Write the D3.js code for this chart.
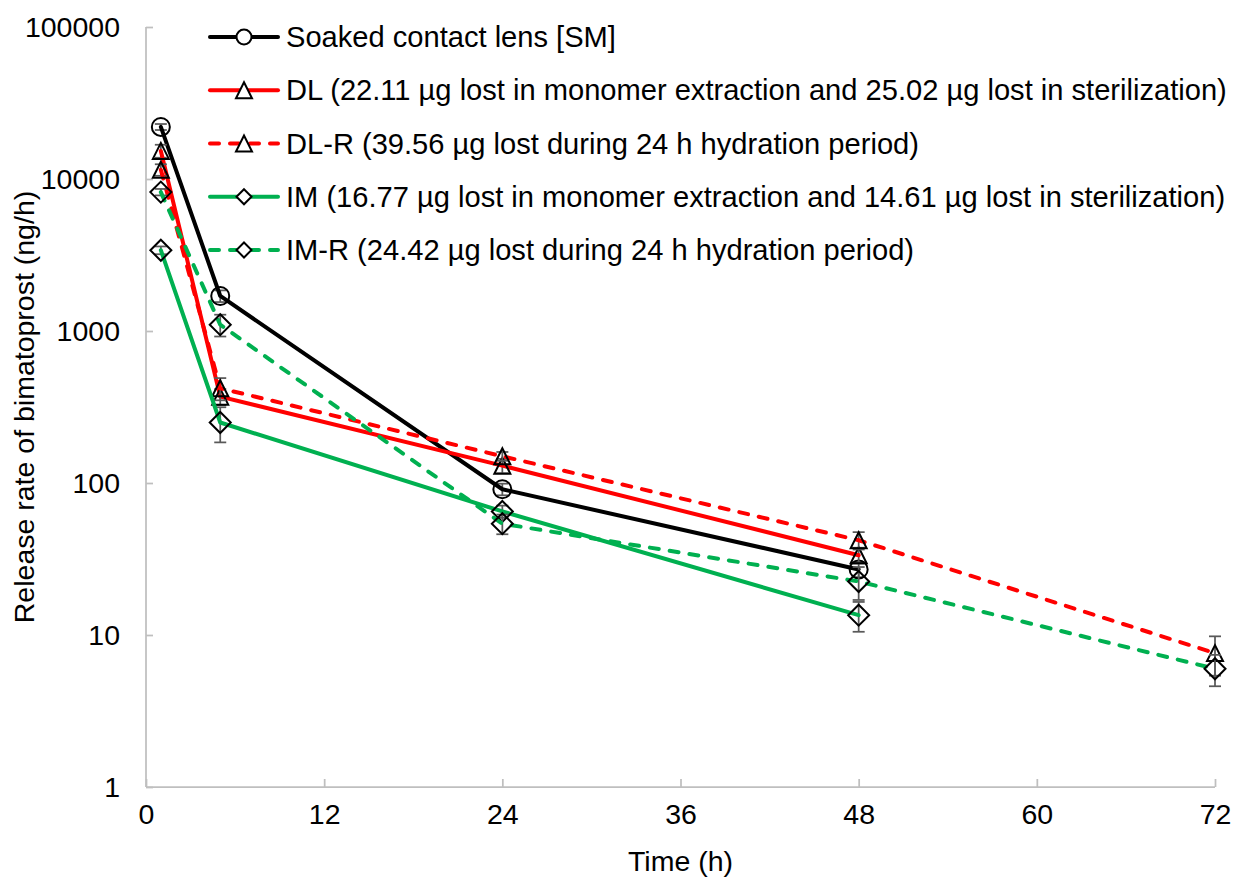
<!DOCTYPE html>
<html>
<head>
<meta charset="utf-8">
<script src="https://cdn.jsdelivr.net/npm/d3@7"></script>
<style>
  html, body { margin: 0; padding: 0; background: #fff; }
  svg { display: block; font-family: "Liberation Sans", Arial, sans-serif; }
</style>
</head>
<body>
<svg id="chart" width="1241" height="878"></svg>
<script>
// Sampling times (h)
const times = [1, 5, 24, 48, 72];

// Release rates (ng/h) per formulation, and their standard deviations
const smRate   = [22000, 1700, 91, 27];
const smSd     = [1000, 150, 8, 3];
const dlRate   = [15300, 370, 130, 33.5];
const dlSd     = [1500, 45, 14, 4];
const dlrRate  = [11500, 420, 150, 42, 7.6];
const dlrSd    = [1000, 70, 10, 5.5, 2.2];
const imRate   = [3400, 250, 65, 13.5];
const imSd     = [200, 65, 6, 3];
const imrRate  = [8200, 1100, 54, 22.5, 6.0];
const imrSd    = [400, 180, 8, 5.5, 1.4];

const seriesNames = [
  "Soaked contact lens [SM]",
  "DL (22.11 µg lost in monomer extraction and 25.02 µg lost in sterilization)",
  "DL-R (39.56 µg lost during 24 h hydration period)",
  "IM (16.77 µg lost in monomer extraction and 14.61 µg lost in sterilization)",
  "IM-R (24.42 µg lost during 24 h hydration period)"
];

const xTicks = [0, 12, 24, 36, 48, 60, 72];
const yTicks = [1, 10, 100, 1000, 10000, 100000];
const xTitle = "Time (h)";
const yTitle = "Release rate of bimatoprost (ng/h)";

// Series styling
const series = [
  { name: seriesNames[0], rate: smRate,  sd: smSd,  color: "#000000", dashed: false, marker: "circle" },
  { name: seriesNames[1], rate: dlRate,  sd: dlSd,  color: "#ff0000", dashed: false, marker: "triangle" },
  { name: seriesNames[2], rate: dlrRate, sd: dlrSd, color: "#ff0000", dashed: true,  marker: "triangle" },
  { name: seriesNames[3], rate: imRate,  sd: imSd,  color: "#00b050", dashed: false, marker: "diamond" },
  { name: seriesNames[4], rate: imrRate, sd: imrSd, color: "#00b050", dashed: true,  marker: "diamond" }
];

const W = 1241, H = 878;
const margin = { left: 146, right: 26, top: 27, bottom: 91 };
const FONT = 28.5;
const LEGEND_FONT = 29.1;

const svg = d3.select("#chart");

const x = d3.scaleLinear().domain([0, 72]).range([margin.left, W - margin.right]);
const y = d3.scaleLog().domain([1, 100000]).range([H - margin.bottom, margin.top]);

const axisColor = "#bfbfbf";

// Axes with inward ticks
const xAxis = d3.axisBottom(x).tickValues(xTicks).tickSize(-8).tickPadding(17).tickFormat(d3.format("d"));
const yAxis = d3.axisLeft(y).tickValues(yTicks).tickSize(-7).tickPadding(26).tickFormat(d3.format("d"));

const gx = svg.append("g").attr("transform", `translate(0,${H - margin.bottom})`).call(xAxis);
const gy = svg.append("g").attr("transform", `translate(${margin.left},0)`).call(yAxis);

[gx, gy].forEach(g => {
  g.select(".domain").attr("stroke", axisColor).attr("stroke-width", 1.75);
  g.selectAll(".tick line").attr("stroke", axisColor).attr("stroke-width", 1.75);
  g.selectAll(".tick text").attr("fill", "#000").style("font-size", FONT + "px")
    .style("font-family", "'Liberation Sans', Arial, sans-serif");
});
gx.selectAll(".tick text").attr("dy", "0.71em");
gy.selectAll(".tick text").attr("dy", "0.35em");
// plain axis lines without outer tick stubs
gy.select(".domain").attr("d", `M0,${y(100000)}V${y(1)}`);
gx.select(".domain").attr("d", `M${x(0)},0H${x(72)}`);

// Axis titles
svg.append("text")
  .attr("x", (x(0) + x(72)) / 2).attr("y", 871)
  .attr("text-anchor", "middle").style("font-size", FONT + "px").text(xTitle);
svg.append("text")
  .attr("transform", `translate(34,${(y(1) + y(100000)) / 2}) rotate(-90)`)
  .attr("text-anchor", "middle").style("font-size", FONT + "px").text(yTitle);

// Marker shapes
function markerPath(type, size) {
  if (type === "triangle") {
    const w = size, h = size;
    return `M0,${-h / 2}L${w / 2},${h / 2}L${-w / 2},${h / 2}Z`;
  }
  if (type === "diamond") {
    const s = size / 2;
    return `M0,${-s}L${s},0L0,${s}L${-s},0Z`;
  }
  return null;
}
function drawMarker(g, type, cx, cy, legend) {
  if (type === "circle") {
    g.append("circle").attr("cx", cx).attr("cy", cy).attr("r", legend ? 7.5 : 9)
      .attr("fill", legend ? "#fff" : "none").attr("stroke", "#000").attr("stroke-width", 2);
  } else {
    const size = type === "triangle" ? 16 : (legend ? 15 : 21);
    g.append("path").attr("d", markerPath(type, size))
      .attr("transform", `translate(${cx},${cy})`)
      .attr("fill", legend ? "#fff" : "none").attr("stroke", "#000").attr("stroke-width", 2)
      .attr("stroke-linejoin", "miter");
  }
}

const line = d3.line().x(d => x(d.t)).y(d => y(d.v));
const errColor = "#595959";

series.forEach(s => {
  const pts = s.rate.map((v, i) => ({ t: times[i], v, sd: s.sd[i] }));
  const g = svg.append("g");

  // error bars
  pts.forEach(p => {
    const top = y(p.v + p.sd), bot = y(Math.max(p.v - p.sd, 1));
    const eg = g.append("g").attr("stroke", errColor).attr("stroke-width", 1.75);
    eg.append("line").attr("x1", x(p.t)).attr("x2", x(p.t)).attr("y1", top).attr("y2", bot);
    eg.append("line").attr("x1", x(p.t) - 6).attr("x2", x(p.t) + 6).attr("y1", top).attr("y2", top);
    eg.append("line").attr("x1", x(p.t) - 6).attr("x2", x(p.t) + 6).attr("y1", bot).attr("y2", bot);
  });

  g.append("path").datum(pts).attr("d", line)
    .attr("fill", "none").attr("stroke", s.color).attr("stroke-width", 4)
    .attr("stroke-linejoin", "round")
    .attr("stroke-linecap", "round")
    .attr("stroke-dasharray", s.dashed ? "9,11" : null);

  pts.forEach(p => drawMarker(g, s.marker, x(p.t), y(p.v), false));
});

// Legend
const legend = svg.append("g");
const legX0 = 208, legX1 = 280, legTextX = 286, legY0 = 37, legStep = 53.25;
series.forEach((s, i) => {
  const cy = legY0 + i * legStep;
  const lg = legend.append("g");
  lg.append("line").attr("x1", legX0 + 2).attr("x2", legX1 - 2).attr("y1", cy).attr("y2", cy)
    .attr("stroke", s.color).attr("stroke-width", 4).attr("stroke-linecap", "round")
    .attr("stroke-dasharray", s.dashed ? "9,11" : null);
  drawMarker(lg, s.marker, (legX0 + legX1) / 2, cy, true);
  lg.append("text").attr("x", legTextX).attr("y", cy).attr("dy", "0.35em")
    .style("font-size", LEGEND_FONT + "px").text(s.name);
});
</script>
</body>
</html>
